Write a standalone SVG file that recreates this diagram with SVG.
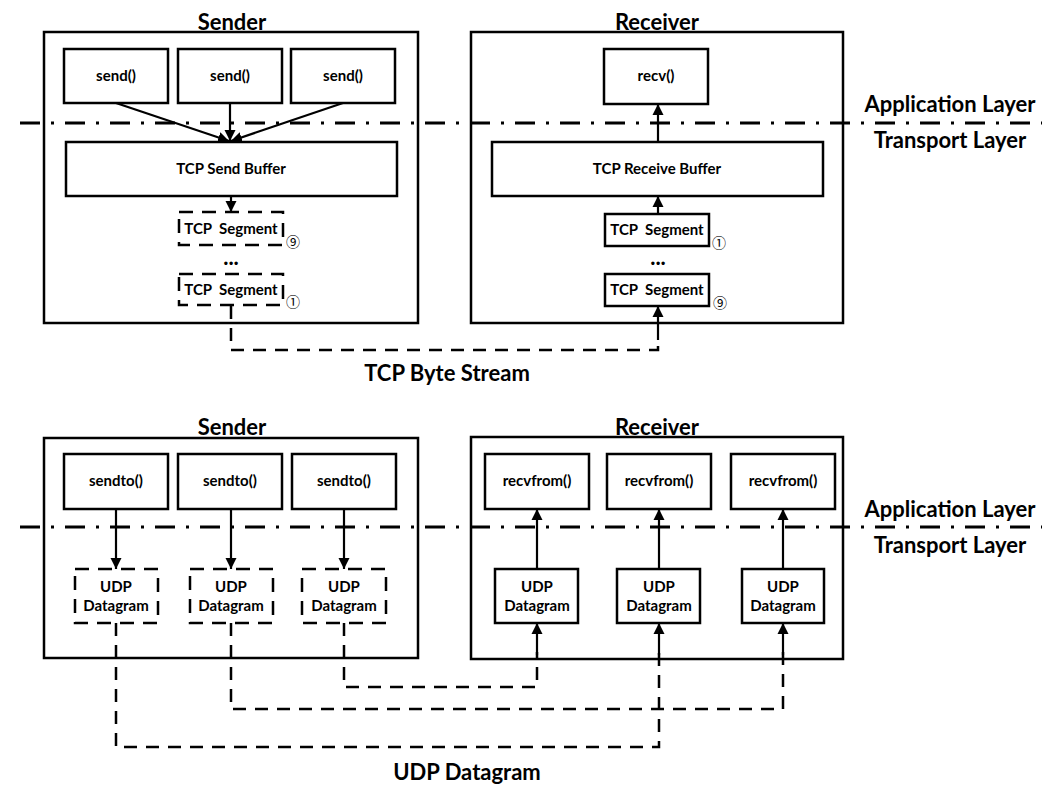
<svg xmlns="http://www.w3.org/2000/svg" width="1048" height="788" viewBox="0 0 1048 788">
<style>
text{font-family:Lato,"Liberation Sans",sans-serif;font-weight:bold;fill:#000;text-anchor:middle}
.title{font-size:22px}
.layer{font-size:22px}
.lbl{font-size:15px}
.dots{font-size:22px}
.num{font-family:"Noto Sans CJK SC","DejaVu Sans",sans-serif;font-weight:normal;font-size:14px}
.box{fill:#fff;stroke:#000;stroke-width:2.5}
.frame{fill:none;stroke:#000;stroke-width:2.5}
.dbox{fill:#fff;stroke:#000;stroke-width:2.5;stroke-dasharray:14 9}
.arr{stroke:#000;stroke-width:2.2;fill:none;marker-end:url(#ah)}
.dash{stroke:#000;stroke-width:2.5;fill:none;stroke-dasharray:13 9}
.dd{stroke:#000;stroke-width:3;fill:none;stroke-dasharray:20 11 3 11}
</style>
<defs>
<marker id="ah" markerUnits="userSpaceOnUse" markerWidth="12" markerHeight="12" viewBox="0 0 12 12" refX="11" refY="6" orient="auto">
<path d="M0,0.5 L11,6 L0,11.5 z" fill="#000"/>
</marker>
</defs>

<!-- ===== TCP section ===== -->
<g id="tcp-sender">
<rect class="frame" x="44" y="32" width="374" height="291"/>
<text class="title" x="232" y="30">Sender</text>
</g>
<g id="tcp-receiver">
<rect class="frame" x="471" y="32" width="372" height="291"/>
<text class="title" x="657" y="30">Receiver</text>
</g>

<g id="layer-line-top">
<line class="dd" x1="20" y1="123" x2="1042" y2="123"/>
</g>
<g id="layer-labels-top">
<text class="layer" x="950" y="112">Application Layer</text>
<text class="layer" x="950" y="148">Transport Layer</text>
</g>

<g id="send1"><rect class="box" x="64" y="49" width="104" height="54"/><text class="lbl" x="116" y="81">send()</text></g>
<g id="send2"><rect class="box" x="178" y="49" width="104" height="54"/><text class="lbl" x="230" y="81">send()</text></g>
<g id="send3"><rect class="box" x="291" y="49" width="104" height="54"/><text class="lbl" x="343" y="81">send()</text></g>
<g id="tcp-send-buffer"><rect class="box" x="66" y="142" width="331" height="54"/><text class="lbl" x="231" y="174">TCP Send Buffer</text></g>
<g id="s-seg9"><rect class="dbox" x="179" y="212" width="104" height="33"/><text class="lbl" x="231" y="234" xml:space="preserve">TCP  Segment</text><text class="num" x="293" y="247">⑨</text></g>
<g id="s-dots"><text class="dots" x="231" y="265">...</text></g>
<g id="s-seg1"><rect class="dbox" x="179" y="274" width="104" height="31"/><text class="lbl" x="231" y="295" xml:space="preserve">TCP  Segment</text><text class="num" x="293" y="307">①</text></g>

<g id="recv"><rect class="box" x="604" y="49" width="104" height="55"/><text class="lbl" x="656" y="81">recv()</text></g>
<g id="tcp-receive-buffer"><rect class="box" x="492" y="142" width="331" height="54"/><text class="lbl" x="657" y="174">TCP Receive Buffer</text></g>
<g id="r-seg1"><rect class="box" x="605" y="214" width="104" height="32"/><text class="lbl" x="657" y="235" xml:space="preserve">TCP  Segment</text><text class="num" x="719" y="248">①</text></g>
<g id="r-dots"><text class="dots" x="658" y="265">...</text></g>
<g id="r-seg9"><rect class="box" x="605" y="274" width="104" height="32"/><text class="lbl" x="657" y="295" xml:space="preserve">TCP  Segment</text><text class="num" x="720" y="308">⑨</text></g>

<g id="tcp-label"><text class="layer" x="447" y="381">TCP Byte Stream</text></g>

<!-- ===== UDP section ===== -->
<g id="udp-sender">
<rect class="frame" x="44" y="438" width="374" height="220"/>
<text class="title" x="232" y="435">Sender</text>
</g>
<g id="udp-receiver">
<rect class="frame" x="471" y="437" width="372" height="222"/>
<text class="title" x="657" y="435">Receiver</text>
</g>

<g id="layer-line-bottom">
<line class="dd" x1="20" y1="527" x2="1042" y2="527"/>
</g>
<g id="layer-labels-bottom">
<text class="layer" x="950" y="517">Application Layer</text>
<text class="layer" x="950" y="553">Transport Layer</text>
</g>

<g id="sendto1"><rect class="box" x="64" y="454" width="104" height="55"/><text class="lbl" x="116" y="486">sendto()</text></g>
<g id="sendto2"><rect class="box" x="178" y="454" width="104" height="55"/><text class="lbl" x="230" y="486">sendto()</text></g>
<g id="sendto3"><rect class="box" x="292" y="454" width="104" height="55"/><text class="lbl" x="344" y="486">sendto()</text></g>
<g id="s-dg1"><rect class="dbox" x="75" y="569" width="83" height="54"/><text class="lbl" x="116" y="592">UDP</text><text class="lbl" x="116" y="611">Datagram</text></g>
<g id="s-dg2"><rect class="dbox" x="190" y="569" width="83" height="54"/><text class="lbl" x="231" y="592">UDP</text><text class="lbl" x="231" y="611">Datagram</text></g>
<g id="s-dg3"><rect class="dbox" x="302" y="569" width="84" height="54"/><text class="lbl" x="344" y="592">UDP</text><text class="lbl" x="344" y="611">Datagram</text></g>

<g id="recvfrom1"><rect class="box" x="485" y="454" width="104" height="55"/><text class="lbl" x="537" y="486">recvfrom()</text></g>
<g id="recvfrom2"><rect class="box" x="607" y="454" width="104" height="55"/><text class="lbl" x="659" y="486">recvfrom()</text></g>
<g id="recvfrom3"><rect class="box" x="731" y="454" width="104" height="55"/><text class="lbl" x="783" y="486">recvfrom()</text></g>
<g id="r-dg1"><rect class="box" x="495" y="569" width="83" height="54"/><text class="lbl" x="537" y="592">UDP</text><text class="lbl" x="537" y="611">Datagram</text></g>
<g id="r-dg2"><rect class="box" x="617" y="569" width="83" height="54"/><text class="lbl" x="659" y="592">UDP</text><text class="lbl" x="659" y="611">Datagram</text></g>
<g id="r-dg3"><rect class="box" x="742" y="569" width="82" height="54"/><text class="lbl" x="783" y="592">UDP</text><text class="lbl" x="783" y="611">Datagram</text></g>

<g id="udp-label"><text class="layer" x="467" y="780">UDP Datagram</text></g>

<!-- ===== connectors ===== -->
<g id="connectors">
<line class="arr" x1="116" y1="103" x2="229" y2="141"/>
<line class="arr" x1="230" y1="103" x2="230" y2="141"/>
<line class="arr" x1="343" y1="103" x2="231" y2="141"/>
<line class="arr" x1="231" y1="196" x2="231" y2="212"/>
<line class="arr" x1="658" y1="142" x2="658" y2="104"/>
<line class="arr" x1="658" y1="214" x2="658" y2="196"/>
<path class="dash" d="M231,306 V350 H658 V338"/>
<line class="arr" x1="658" y1="340" x2="658" y2="306"/>

<line class="arr" x1="116" y1="509" x2="116" y2="569"/>
<line class="arr" x1="231" y1="509" x2="231" y2="569"/>
<line class="arr" x1="344" y1="509" x2="344" y2="569"/>
<line class="arr" x1="537" y1="569" x2="537" y2="509"/>
<line class="arr" x1="659" y1="569" x2="659" y2="509"/>
<line class="arr" x1="783" y1="569" x2="783" y2="509"/>

<path class="dash" d="M344,623 V687 H537 V652"/>
<line class="arr" x1="537" y1="655" x2="537" y2="623"/>
<path class="dash" d="M231,623 V709 H783 V652"/>
<line class="arr" x1="783" y1="655" x2="783" y2="623"/>
<path class="dash" d="M116,623 V747 H659 V652"/>
<line class="arr" x1="659" y1="655" x2="659" y2="623"/>
</g>
</svg>
